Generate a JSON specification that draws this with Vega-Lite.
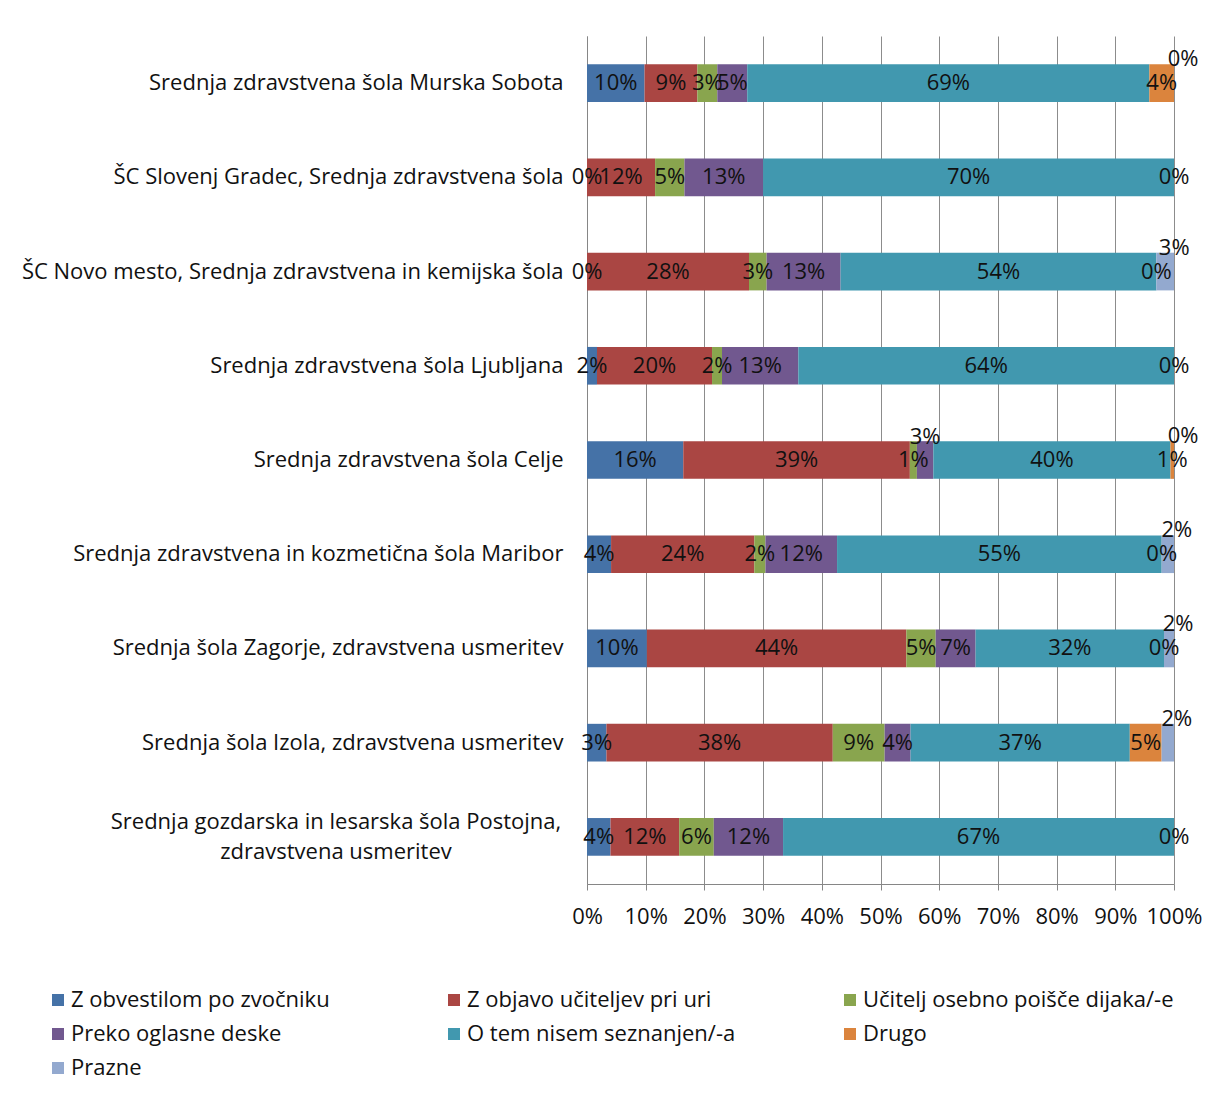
{
  "$schema": "https://vega.github.io/schema/vega-lite/v6.json",
  "width": 587,
  "height": 848,
  "autosize": {"type": "none"},
  "padding": {"left": 587, "top": 36, "right": 34, "bottom": 209},
  "background": "white",
  "config": {
    "font": "Open Sans",
    "view": {"stroke": null},
    "axis": {"labelFont": "Open Sans", "labelFontSize": 22, "labelColor": "#111111", "domainColor": "#868686", "tickColor": "#868686", "gridColor": "#8c8c8c", "title": null},
    "text": {"font": "Open Sans", "fontSize": 22, "color": "#111111"}
  },
  "data": {"values": [
    {"school": "Srednja zdravstvena šola Murska Sobota", "series": "Z  obvestilom po zvočniku", "v": 0.098},
    {"school": "Srednja zdravstvena šola Murska Sobota", "series": "Z objavo učiteljev pri uri", "v": 0.09},
    {"school": "Srednja zdravstvena šola Murska Sobota", "series": "Učitelj osebno poišče dijaka/-e", "v": 0.034},
    {"school": "Srednja zdravstvena šola Murska Sobota", "series": "Preko oglasne deske", "v": 0.051},
    {"school": "Srednja zdravstvena šola Murska Sobota", "series": "O tem nisem seznanjen/-a", "v": 0.685},
    {"school": "Srednja zdravstvena šola Murska Sobota", "series": "Drugo", "v": 0.042},
    {"school": "Srednja zdravstvena šola Murska Sobota", "series": "Prazne", "v": 0},
    {"school": "ŠC Slovenj Gradec, Srednja zdravstvena šola", "series": "Z  obvestilom po zvočniku", "v": 0},
    {"school": "ŠC Slovenj Gradec, Srednja zdravstvena šola", "series": "Z objavo učiteljev pri uri", "v": 0.116},
    {"school": "ŠC Slovenj Gradec, Srednja zdravstvena šola", "series": "Učitelj osebno poišče dijaka/-e", "v": 0.05},
    {"school": "ŠC Slovenj Gradec, Srednja zdravstvena šola", "series": "Preko oglasne deske", "v": 0.134},
    {"school": "ŠC Slovenj Gradec, Srednja zdravstvena šola", "series": "O tem nisem seznanjen/-a", "v": 0.70},
    {"school": "ŠC Slovenj Gradec, Srednja zdravstvena šola", "series": "Drugo", "v": 0},
    {"school": "ŠC Novo mesto, Srednja zdravstvena in kemijska šola", "series": "Z  obvestilom po zvočniku", "v": 0},
    {"school": "ŠC Novo mesto, Srednja zdravstvena in kemijska šola", "series": "Z objavo učiteljev pri uri", "v": 0.276},
    {"school": "ŠC Novo mesto, Srednja zdravstvena in kemijska šola", "series": "Učitelj osebno poišče dijaka/-e", "v": 0.03},
    {"school": "ŠC Novo mesto, Srednja zdravstvena in kemijska šola", "series": "Preko oglasne deske", "v": 0.126},
    {"school": "ŠC Novo mesto, Srednja zdravstvena in kemijska šola", "series": "O tem nisem seznanjen/-a", "v": 0.538},
    {"school": "ŠC Novo mesto, Srednja zdravstvena in kemijska šola", "series": "Drugo", "v": 0},
    {"school": "ŠC Novo mesto, Srednja zdravstvena in kemijska šola", "series": "Prazne", "v": 0.03},
    {"school": "Srednja zdravstvena šola Ljubljana", "series": "Z  obvestilom po zvočniku", "v": 0.017},
    {"school": "Srednja zdravstvena šola Ljubljana", "series": "Z objavo učiteljev pri uri", "v": 0.196},
    {"school": "Srednja zdravstvena šola Ljubljana", "series": "Učitelj osebno poišče dijaka/-e", "v": 0.017},
    {"school": "Srednja zdravstvena šola Ljubljana", "series": "Preko oglasne deske", "v": 0.13},
    {"school": "Srednja zdravstvena šola Ljubljana", "series": "O tem nisem seznanjen/-a", "v": 0.64},
    {"school": "Srednja zdravstvena šola Ljubljana", "series": "Drugo", "v": 0},
    {"school": "Srednja zdravstvena šola Celje", "series": "Z  obvestilom po zvočniku", "v": 0.164},
    {"school": "Srednja zdravstvena šola Celje", "series": "Z objavo učiteljev pri uri", "v": 0.386},
    {"school": "Srednja zdravstvena šola Celje", "series": "Učitelj osebno poišče dijaka/-e", "v": 0.012},
    {"school": "Srednja zdravstvena šola Celje", "series": "Preko oglasne deske", "v": 0.028},
    {"school": "Srednja zdravstvena šola Celje", "series": "O tem nisem seznanjen/-a", "v": 0.404},
    {"school": "Srednja zdravstvena šola Celje", "series": "Drugo", "v": 0.006},
    {"school": "Srednja zdravstvena šola Celje", "series": "Prazne", "v": 0},
    {"school": "Srednja zdravstvena in kozmetična šola Maribor", "series": "Z  obvestilom po zvočniku", "v": 0.041},
    {"school": "Srednja zdravstvena in kozmetična šola Maribor", "series": "Z objavo učiteljev pri uri", "v": 0.244},
    {"school": "Srednja zdravstvena in kozmetična šola Maribor", "series": "Učitelj osebno poišče dijaka/-e", "v": 0.019},
    {"school": "Srednja zdravstvena in kozmetična šola Maribor", "series": "Preko oglasne deske", "v": 0.122},
    {"school": "Srednja zdravstvena in kozmetična šola Maribor", "series": "O tem nisem seznanjen/-a", "v": 0.553},
    {"school": "Srednja zdravstvena in kozmetična šola Maribor", "series": "Drugo", "v": 0},
    {"school": "Srednja zdravstvena in kozmetična šola Maribor", "series": "Prazne", "v": 0.021},
    {"school": "Srednja šola Zagorje, zdravstvena usmeritev", "series": "Z  obvestilom po zvočniku", "v": 0.102},
    {"school": "Srednja šola Zagorje, zdravstvena usmeritev", "series": "Z objavo učiteljev pri uri", "v": 0.442},
    {"school": "Srednja šola Zagorje, zdravstvena usmeritev", "series": "Učitelj osebno poišče dijaka/-e", "v": 0.05},
    {"school": "Srednja šola Zagorje, zdravstvena usmeritev", "series": "Preko oglasne deske", "v": 0.068},
    {"school": "Srednja šola Zagorje, zdravstvena usmeritev", "series": "O tem nisem seznanjen/-a", "v": 0.321},
    {"school": "Srednja šola Zagorje, zdravstvena usmeritev", "series": "Drugo", "v": 0},
    {"school": "Srednja šola Zagorje, zdravstvena usmeritev", "series": "Prazne", "v": 0.017},
    {"school": "Srednja šola Izola, zdravstvena usmeritev", "series": "Z  obvestilom po zvočniku", "v": 0.033},
    {"school": "Srednja šola Izola, zdravstvena usmeritev", "series": "Z objavo učiteljev pri uri", "v": 0.384},
    {"school": "Srednja šola Izola, zdravstvena usmeritev", "series": "Učitelj osebno poišče dijaka/-e", "v": 0.088},
    {"school": "Srednja šola Izola, zdravstvena usmeritev", "series": "Preko oglasne deske", "v": 0.044},
    {"school": "Srednja šola Izola, zdravstvena usmeritev", "series": "O tem nisem seznanjen/-a", "v": 0.372},
    {"school": "Srednja šola Izola, zdravstvena usmeritev", "series": "Drugo", "v": 0.054},
    {"school": "Srednja šola Izola, zdravstvena usmeritev", "series": "Prazne", "v": 0.021},
    {"school": "Srednja gozdarska in lesarska šola Postojna, zdravstvena usmeritev", "series": "Z  obvestilom po zvočniku", "v": 0.04},
    {"school": "Srednja gozdarska in lesarska šola Postojna, zdravstvena usmeritev", "series": "Z objavo učiteljev pri uri", "v": 0.117},
    {"school": "Srednja gozdarska in lesarska šola Postojna, zdravstvena usmeritev", "series": "Učitelj osebno poišče dijaka/-e", "v": 0.059},
    {"school": "Srednja gozdarska in lesarska šola Postojna, zdravstvena usmeritev", "series": "Preko oglasne deske", "v": 0.118},
    {"school": "Srednja gozdarska in lesarska šola Postojna, zdravstvena usmeritev", "series": "O tem nisem seznanjen/-a", "v": 0.666},
    {"school": "Srednja gozdarska in lesarska šola Postojna, zdravstvena usmeritev", "series": "Drugo", "v": 0}
  ]},
  "transform": [
    {"window": [{"op": "row_number", "as": "idx"}], "groupby": ["school"]},
    {"stack": "v", "groupby": ["school"], "sort": [{"field": "idx", "order": "ascending"}], "offset": "normalize", "as": ["v0", "v1"]},
    {"fold": ["v0", "v1"], "as": ["edge", "pos"]},
    {"aggregate": [{"op": "mean", "field": "pos", "as": "mid"}], "groupby": ["school", "series", "v", "v0", "v1"]}
  ],
  "encoding": {
    "y": {
      "field": "school", "type": "nominal",
      "sort": ["Srednja zdravstvena šola Murska Sobota", "ŠC Slovenj Gradec, Srednja zdravstvena šola", "ŠC Novo mesto, Srednja zdravstvena in kemijska šola", "Srednja zdravstvena šola Ljubljana", "Srednja zdravstvena šola Celje", "Srednja zdravstvena in kozmetična šola Maribor", "Srednja šola Zagorje, zdravstvena usmeritev", "Srednja šola Izola, zdravstvena usmeritev", "Srednja gozdarska in lesarska šola Postojna, zdravstvena usmeritev"],
      "scale": {"paddingInner": 0.6, "paddingOuter": 0.3},
      "axis": {
        "ticks": false, "labelLimit": 600, "labelPadding": 24,
        "labelExpr": "indexof(datum.value, 'Postojna') >= 0 ? '' : datum.value"
      }
    }
  },
  "layer": [
    {
      "mark": {"type": "bar"},
      "encoding": {
        "x": {
          "field": "v0", "type": "quantitative",
          "scale": {"domain": [0, 1], "nice": false},
          "axis": {"format": "%", "values": [0, 0.1, 0.2, 0.3, 0.4, 0.5, 0.6, 0.7, 0.8, 0.9, 1], "grid": true, "tickSize": 6, "labelPadding": 16, "labelFlush": false}
        },
        "x2": {"field": "v1"},
        "color": {
          "field": "series", "type": "nominal",
          "scale": {
            "domain": ["Z  obvestilom po zvočniku", "Z objavo učiteljev pri uri", "Učitelj osebno poišče dijaka/-e", "Preko oglasne deske", "O tem nisem seznanjen/-a", "Drugo", "Prazne"],
            "range": ["#4572A7", "#AA4643", "#89A54E", "#71588F", "#4198AF", "#DB843D", "#93A9CF"]
          },
          "legend": {"title": null, "orient": "none", "legendX": -540, "legendY": 953, "padding": 0, "direction": "horizontal", "columns": 3, "gridAlign": "all", "symbolType": "square", "symbolSize": 144, "symbolStrokeWidth": 0, "labelFontSize": 22, "labelFont": "Open Sans", "labelColor": "#111111", "labelOffset": 2, "columnPadding": 61, "rowPadding": 12, "labelLimit": 500}
        }
      }
    },
    {
      "transform": [{"filter": "datum.series != 'Prazne' && !(datum.series == 'Preko oglasne deske' && datum.school == 'Srednja zdravstvena šola Celje')"}],
      "mark": {"type": "text", "align": "center", "baseline": "middle"},
      "encoding": {
        "x": {"field": "mid", "type": "quantitative"},
        "text": {"field": "v", "type": "quantitative", "format": ".0%"}
      }
    },
    {
      "transform": [{"filter": "datum.series == 'Prazne'"}],
      "mark": {"type": "text", "align": "center", "baseline": "middle", "dx": 9, "dy": -24},
      "encoding": {
        "x": {"field": "mid", "type": "quantitative"},
        "text": {"field": "v", "type": "quantitative", "format": ".0%"}
      }
    },
    {
      "transform": [{"filter": "datum.series == 'Preko oglasne deske' && datum.school == 'Srednja zdravstvena šola Celje'"}],
      "mark": {"type": "text", "align": "center", "baseline": "middle", "dy": -23},
      "encoding": {
        "x": {"field": "mid", "type": "quantitative"},
        "text": {"field": "v", "type": "quantitative", "format": ".0%"}
      }
    },
    {
      "transform": [{"filter": "indexof(datum.school, 'Postojna') >= 0 && datum.series == 'Drugo'"}],
      "mark": {"type": "text", "text": "Srednja gozdarska in lesarska šola Postojna,", "align": "center", "baseline": "middle", "dx": -251, "dy": -15},
      "encoding": {
        "x": {"datum": 0, "type": "quantitative"}
      }
    },
    {
      "transform": [{"filter": "indexof(datum.school, 'Postojna') >= 0 && datum.series == 'Drugo'"}],
      "mark": {"type": "text", "text": "zdravstvena usmeritev", "align": "center", "baseline": "middle", "dx": -251, "dy": 15},
      "encoding": {
        "x": {"datum": 0, "type": "quantitative"}
      }
    }
  ]
}
